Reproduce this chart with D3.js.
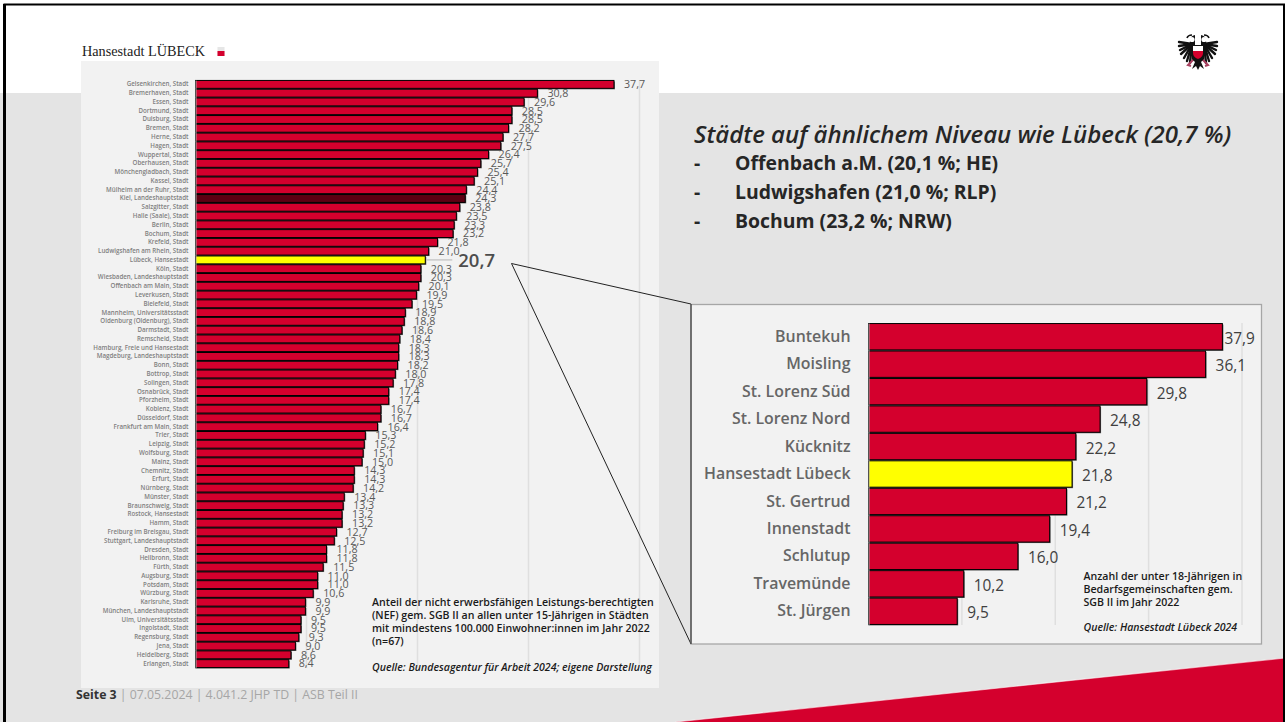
<html>
<head>
<meta charset="utf-8">
<script src="https://d3js.org/d3.v7.min.js"></script>
<style>
    body { margin: 0; background: #fff; }
    svg { display: block; }
    text { font-family: "Open Sans", "Noto Sans", sans-serif; }
    .axis path { stroke: #a6a6a6; stroke-width: 1; }
    .axis line { display: none; }
    .cities text { font-size: 6.2px; font-weight: 600; fill: #7f7f7f; }
    .quarters text { font-size: 15.9px; font-weight: 600; fill: #666; }
    .grid { stroke: #dfdfdf; stroke-width: 1.5; }
    .bar { stroke: #000; stroke-width: 1; }
    .shadow { fill: #666; }
    .val { font-size: 10.7px; fill: #595959; }
    .val2 { font-size: 15.4px; fill: #404040; }
    .note { font-weight: 600; fill: #1a1a1a; }
    .head { font-size: 19.4px; font-weight: 700; fill: #262626; }
</style>
</head>
<body>
<svg id="slide" width="1285" height="722"></svg>
<script>
    // Anteil NEF an unter 15-Jaehrigen, Staedte ab 100.000 Einwohner:innen
    var cities = ["Gelsenkirchen, Stadt", "Bremerhaven, Stadt", "Essen, Stadt", "Dortmund, Stadt", "Duisburg, Stadt", "Bremen, Stadt", "Herne, Stadt", "Hagen, Stadt", "Wuppertal, Stadt", "Oberhausen, Stadt", "Mönchengladbach, Stadt", "Kassel, Stadt", "Mülheim an der Ruhr, Stadt", "Kiel, Landeshauptstadt", "Salzgitter, Stadt", "Halle (Saale), Stadt", "Berlin, Stadt", "Bochum, Stadt", "Krefeld, Stadt", "Ludwigshafen am Rhein, Stadt", "Lübeck, Hansestadt", "Köln, Stadt", "Wiesbaden, Landeshauptstadt", "Offenbach am Main, Stadt", "Leverkusen, Stadt", "Bielefeld, Stadt", "Mannheim, Universitätsstadt", "Oldenburg (Oldenburg), Stadt", "Darmstadt, Stadt", "Remscheid, Stadt", "Hamburg, Freie und Hansestadt", "Magdeburg, Landeshauptstadt", "Bonn, Stadt", "Bottrop, Stadt", "Solingen, Stadt", "Osnabrück, Stadt", "Pforzheim, Stadt", "Koblenz, Stadt", "Düsseldorf, Stadt", "Frankfurt am Main, Stadt", "Trier, Stadt", "Leipzig, Stadt", "Wolfsburg, Stadt", "Mainz, Stadt", "Chemnitz, Stadt", "Erfurt, Stadt", "Nürnberg, Stadt", "Münster, Stadt", "Braunschweig, Stadt", "Rostock, Hansestadt", "Hamm, Stadt", "Freiburg im Breisgau, Stadt", "Stuttgart, Landeshauptstadt", "Dresden, Stadt", "Heilbronn, Stadt", "Fürth, Stadt", "Augsburg, Stadt", "Potsdam, Stadt", "Würzburg, Stadt", "Karlsruhe, Stadt", "München, Landeshauptstadt", "Ulm, Universitätsstadt", "Ingolstadt, Stadt", "Regensburg, Stadt", "Jena, Stadt", "Heidelberg, Stadt", "Erlangen, Stadt"]
    var cityValues = [37.7, 30.8, 29.6, 28.5, 28.5, 28.2, 27.7, 27.5, 26.4, 25.7, 25.4, 25.1, 24.4, 24.3, 23.8, 23.5, 23.3, 23.2, 21.8, 21.0, 20.7, 20.3, 20.3, 20.1, 19.9, 19.5, 18.9, 18.8, 18.6, 18.4, 18.3, 18.3, 18.2, 18.0, 17.8, 17.4, 17.4, 16.7, 16.7, 16.4, 15.3, 15.2, 15.1, 15.0, 14.3, 14.3, 14.2, 13.4, 13.3, 13.2, 13.2, 12.7, 12.5, 11.8, 11.8, 11.5, 11.0, 11.0, 10.6, 9.9, 9.9, 9.5, 9.5, 9.3, 9.0, 8.6, 8.4]

    // Stadtteile Luebeck
    var quarters = ["Buntekuh", "Moisling", "St. Lorenz Süd", "St. Lorenz Nord", "Kücknitz", "Hansestadt Lübeck", "St. Gertrud", "Innenstadt", "Schlutup", "Travemünde", "St. Jürgen"]
    var quarterValues = [37.9, 36.1, 29.8, 24.8, 22.2, 21.8, 21.2, 19.4, 16.0, 10.2, 9.5]

    var cityTicks = [10, 20, 30, 40]
    var quarterTicks = [10, 20, 30, 40]

    var comparison = ["Offenbach a.M. (20,1 %; HE)", "Ludwigshafen (21,0 %; RLP)", "Bochum (23,2 %; NRW)"]

    var red = "#d4002d"
    var fmt = v => v.toFixed(1).replace(".", ",")
    var svg = d3.select("#slide")

    // background
    svg.append("rect").attr("y", 93).attr("width", 1285).attr("height", 629).attr("fill", "#e4e4e4")
    svg.append("path").attr("d", "M675,722L1285,658V722Z").attr("fill", red)
    svg.append("path").attr("d", "M675,722L1285,658").attr("stroke", "#fff").attr("stroke-opacity", 0.6).attr("stroke-width", 1.2)
    svg.append("path").attr("d", "M4.5,722V4.5H1284V722").attr("fill", "none").attr("stroke", "#000").attr("stroke-width", 2)
    svg.append("rect").attr("x", 3).attr("y", 4).attr("width", 3).attr("height", 718).attr("fill", "#000")

    // header
    svg.append("text").attr("x", 82).attr("y", 56).style("font-family", "'Liberation Serif', serif")
        .style("font-size", "14px").attr("fill", "#222").attr("textLength", 123).attr("lengthAdjust", "spacingAndGlyphs").text("Hansestadt LÜBECK")
    svg.append("rect").attr("x", 217.5).attr("y", 47).attr("width", 7).attr("height", 9).attr("fill", "#e6e6e6")
    svg.append("rect").attr("x", 217.5).attr("y", 51).attr("width", 7).attr("height", 5).attr("fill", red)

    drawEagle(svg.append("g").attr("transform", "translate(1198,51)"))

    // left panel
    svg.append("rect").attr("x", 81).attr("y", 61).attr("width", 578).attr("height", 627).attr("fill", "#f2f2f2")

    var x = d3.scaleLinear().domain([0, 40]).range([195.5, 639.5])
    var y = d3.scaleBand().domain(cities).range([80, 668]).paddingInner(0.1).paddingOuter(0.05)

    svg.append("g").selectAll("line").data(cityTicks).join("line")
        .attr("class", "grid")
        .attr("x1", d => x(d)).attr("x2", d => x(d))
        .attr("y1", 80).attr("y2", 668)

    var cityRows = cities.map((c, i) => ({name: c, value: cityValues[i]}))

    svg.append("g").selectAll("rect").data(cityRows).join("rect")
        .attr("class", "shadow")
        .attr("x", x(0)).attr("y", d => y(d.name) + 1)
        .attr("width", d => x(d.value) - x(0) + 1).attr("height", y.bandwidth())

    svg.append("g").selectAll("rect").data(cityRows).join("rect")
        .attr("class", "bar")
        .attr("x", x(0)).attr("y", d => y(d.name))
        .attr("width", d => x(d.value) - x(0)).attr("height", y.bandwidth())
        .attr("fill", d => d.name.startsWith("Lübeck") ? "#ffff00" : d.name.startsWith("Kiel") ? "#5c0012" : red)

    svg.append("g").attr("class", "axis cities")
        .attr("transform", `translate(${x(0)},0)`)
        .call(d3.axisLeft(y).tickSize(0).tickPadding(7))

    svg.append("g").selectAll("text").data(cityRows.filter(d => !d.name.startsWith("Lübeck"))).join("text")
        .attr("class", "val")
        .attr("x", d => x(d.value) + 10)
        .attr("y", d => y(d.name) + y.bandwidth() / 2)
        .attr("dy", "0.36em")
        .text(d => fmt(d.value))

    // Luebeck gets the big label with a leader line
    var lue = cityRows[20]
    var lueY = y(lue.name) + y.bandwidth() / 2
    svg.append("line").attr("x1", x(lue.value) + 1).attr("x2", x(lue.value) + 27)
        .attr("y1", lueY).attr("y2", lueY).attr("stroke", "#bfbfbf").attr("stroke-width", 1.2)
    svg.append("text").attr("x", x(lue.value) + 33).attr("y", lueY + 7)
        .style("font-size", "18.5px").style("font-weight", 600).attr("fill", "#4d4d4d").text(fmt(lue.value))

    var leftNote = ["Anteil der nicht erwerbsfähigen Leistungs-berechtigten", "(NEF) gem. SGB II an allen unter 15-Jährigen in Städten", "mit mindestens 100.000 Einwohner:innen im Jahr 2022", "(n=67)"]
    svg.append("g").selectAll("text").data(leftNote).join("text")
        .attr("class", "note").attr("x", 372).attr("y", (d, i) => 606 + i * 13)
        .style("font-size", "10.6px").text(d => d)
    svg.append("text").attr("class", "note").attr("x", 372).attr("y", 671)
        .style("font-size", "10.55px").style("font-style", "italic").text("Quelle: Bundesagentur für Arbeit 2024; eigene Darstellung")

    // connector to inset
    svg.append("path").attr("d", "M691,304L511.5,263.5L691,644").attr("fill", "none").attr("stroke", "#222").attr("stroke-width", 1)

    // right heading
    svg.append("text").attr("x", 694).attr("y", 143).style("font-size", "24px").style("font-weight", 600)
        .style("font-style", "italic").attr("fill", "#262626").text("Städte auf ähnlichem Niveau wie Lübeck (20,7 %)")
    var heads = svg.append("g").selectAll("g").data(comparison).join("g")
        .attr("transform", (d, i) => `translate(0,${170 + i * 29})`)
    heads.append("text").attr("class", "head").attr("x", 694).text("-")
    heads.append("text").attr("class", "head").attr("x", 735).text(d => d)

    // inset panel
    svg.append("rect").attr("x", 691).attr("y", 304.5).attr("width", 570.5).attr("height", 339.5)
        .attr("fill", "#f2f2f2").attr("stroke", "#a6a6a6").attr("stroke-width", 1.3)
    svg.append("line").attr("x1", 691).attr("x2", 691).attr("y1", 304).attr("y2", 644).attr("stroke", "#222")

    var x2 = d3.scaleLinear().domain([0, 40]).range([868.5, 1242])
    var y2 = d3.scaleBand().domain(quarters).range([323, 625]).paddingInner(0.04).paddingOuter(0.02)
    var quarterRows = quarters.map((c, i) => ({name: c, value: quarterValues[i]}))

    svg.append("g").selectAll("line").data(quarterTicks).join("line")
        .attr("class", "grid")
        .attr("x1", d => x2(d)).attr("x2", d => x2(d))
        .attr("y1", 323).attr("y2", 625)

    svg.append("g").selectAll("rect").data(quarterRows).join("rect")
        .attr("class", "shadow")
        .attr("x", x2(0)).attr("y", d => y2(d.name) + 1)
        .attr("width", d => x2(d.value) - x2(0) + 1).attr("height", y2.bandwidth())

    svg.append("g").selectAll("rect").data(quarterRows).join("rect")
        .attr("class", "bar")
        .attr("x", x2(0)).attr("y", d => y2(d.name))
        .attr("width", d => x2(d.value) - x2(0)).attr("height", y2.bandwidth())
        .attr("fill", d => d.name == "Hansestadt Lübeck" ? "#ffff00" : red)

    svg.append("g").attr("class", "axis quarters")
        .attr("transform", `translate(${x2(0)},0)`)
        .call(d3.axisLeft(y2).tickSize(0).tickPadding(18))

    svg.append("g").selectAll("text").data(quarterRows).join("text")
        .attr("class", "val2")
        .attr("x", d => x2(d.value) + (d.value > 37 ? 2 : 10))
        .attr("y", d => y2(d.name) + y2.bandwidth() / 2 + 1.5)
        .attr("dy", "0.36em")
        .text(d => fmt(d.value))

    var rightNote = ["Anzahl der unter 18-Jährigen in", "Bedarfsgemeinschaften gem.", "SGB II im Jahr 2022"]
    svg.append("g").selectAll("text").data(rightNote).join("text")
        .attr("class", "note").attr("x", 1083.5).attr("y", (d, i) => 580 + i * 13)
        .style("font-size", "10.6px").text(d => d)
    svg.append("text").attr("class", "note").attr("x", 1083.5).attr("y", 631)
        .style("font-size", "10.55px").style("font-style", "italic").text("Quelle: Hansestadt Lübeck 2024")

    // footer
    var foot = svg.append("text").attr("x", 76).attr("y", 699).style("font-size", "12.3px")
    foot.append("tspan").style("font-weight", 700).attr("fill", "#333").text("Seite 3")
    foot.append("tspan").attr("fill", "#a6a6a6").text(" | 07.05.2024 | 4.041.2 JHP TD | ASB Teil II")

    // Luebeck eagle, rough version of the logo
    function drawEagle(g) {
        var black = "#111"
        var wing = [[-19, -9], [-19, -5], [-18, -1], [-17, 3], [-14, 7], [-11, 10], [-8, 12]]
        ;[1, -1].forEach(s => {
            var side = g.append("g").attr("transform", `scale(${s},1)`)
            side.selectAll("line").data(wing).join("line")
                .attr("x1", -6).attr("y1", -7)
                .attr("x2", d => d[0]).attr("y2", d => d[1])
                .attr("stroke", black).attr("stroke-width", 2.4).attr("stroke-linecap", "round")
            side.append("path").attr("d", "M-3,-16Q-8,-15 -8,-10L-9,-3L-3,0Z").attr("fill", black)
            side.append("circle").attr("cx", -6).attr("cy", -11.5).attr("r", 2.6).attr("fill", "#fff")
            side.append("path").attr("d", "M-6,-16Q-10,-16 -11,-13").attr("fill", "none").attr("stroke", black).attr("stroke-width", 1.6)
            side.append("path").attr("d", "M-4,8L-10,14L-7,15").attr("fill", "none").attr("stroke", "#a8405f").attr("stroke-width", 2)
        })
        g.append("path").attr("d", "M-6,-6H6V8L3,11L6,18L2,15L0,19L-2,15L-6,18L-3,11L-6,8Z").attr("fill", black)
        g.append("path").attr("d", "M-5,-5H5V0H-5Z").attr("fill", "#fff")
        g.append("path").attr("d", "M-5,0H5V2Q5,6 0,8Q-5,6 -5,2Z").attr("fill", red)
    }
</script>
</body>
</html>
